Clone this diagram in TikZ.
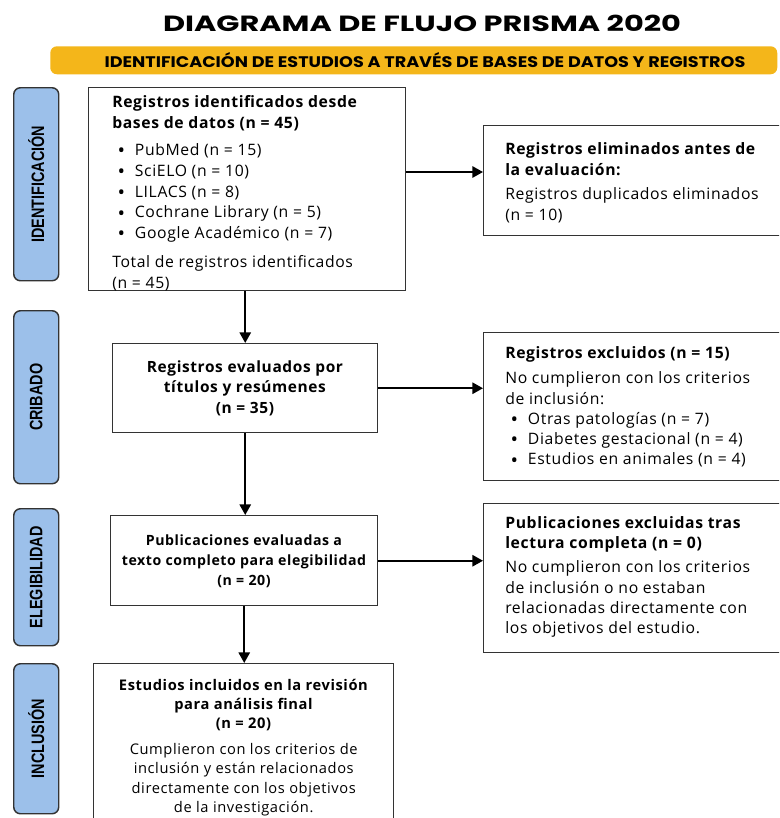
\documentclass[tikz,border=0pt]{standalone}
\usepackage{fontspec}
\setmainfont[LetterSpace=4]{Open Sans}
\newfontfamily\condfont[FakeStretch=0.8]{Liberation Sans}
\newfontfamily\titlefont[FakeStretch=1.38]{Poppins}
\newfontfamily\bannerfont[FakeStretch=1.15]{Poppins}
\usetikzlibrary{arrows.meta,calc}
\definecolor{stageblue}{HTML}{9CC0EA}
\definecolor{bannercol}{HTML}{F4B61A}
\definecolor{edgecol}{HTML}{333333}
\newcommand{\bul}{\hspace*{4pt}\makebox[13pt][l]{\raisebox{-1.6pt}{\fontsize{15}{15}\selectfont\textbullet}}}
\begin{document}
\begin{tikzpicture}[x=0.75pt,y=-0.75pt,
  dims/.style 2 args={minimum width=#1*0.75pt, minimum height=#2*0.75pt},
  box/.style={draw=edgecol, line width=1.1pt, anchor=north west, inner sep=0pt},
  stage/.style={draw=edgecol, fill=stageblue, line width=1.1pt, rounded corners=5pt, anchor=north west, inner sep=0pt},
  stagetxt/.style={rotate=90, inner sep=0pt, font=\condfont\bfseries\fontsize{13.5}{16}\selectfont},
  txt/.style={anchor=north west, inner sep=0pt, align=left, font=\fontsize{11.8}{15.6}\selectfont},
  ctxt/.style={anchor=north, inner sep=0pt, align=center, font=\fontsize{11.3}{15.4}\selectfont},
  arr/.style={-{Triangle[length=8pt,width=8.5pt]}, line width=1.5pt, draw=black}
]
\useasboundingbox (0,0) rectangle (779,818);
\clip (0,0) rectangle (779,818);
\fill[white] (0,0) rectangle (779,818);

% title and banner
\node[inner sep=0pt, font=\titlefont\bfseries\fontsize{16.5}{20}\selectfont] (title) at (422,23) {DIAGRAMA DE FLUJO PRISMA 2020};
\node[fill=bannercol, rounded corners=5pt, anchor=north west, inner sep=0pt, dims={727}{28}] (ban) at (50,46) {};
\node[inner sep=0pt, font=\bannerfont\bfseries\fontsize{11.5}{14}\selectfont] (bantxt) at (425,60) {IDENTIFICACIÓN DE ESTUDIOS A TRAVÉS DE BASES DE DATOS Y REGISTROS};

% stage labels
\node[stage, dims={45}{193}] (s1) at (13,87) {};
\node[stagetxt] (s1t) at (s1.center) {IDENTIFICACIÓN};
\node[stage, dims={45}{173}] (s2) at (13,310) {};
\node[stagetxt] (s2t) at (s2.center) {CRIBADO};
\node[stage, dims={45}{137}] (s3) at (13,508) {};
\node[stagetxt] (s3t) at (s3.center) {ELEGIBILIDAD};
\node[stage, dims={45}{150}] (s4) at (13,663) {};
\node[stagetxt] (s4t) at (s4.center) {INCLUSIÓN};

% boxes
\node[box, dims={317}{203}] (b1) at (88,87) {};
\node[box, dims={300}{110}] (r1) at (483,125) {};
\node[box, dims={265}{89}] (b2) at (112,343) {};
\node[box, dims={300}{148}] (r2) at (483,332) {};
\node[box, dims={267}{90}] (b3) at (110,515) {};
\node[box, dims={300}{149}] (r3) at (483,503) {};
\node[box, dims={300}{175}] (b4) at (93,663) {};

% texts
\node[txt] (b1t) at (112,95) {\textbf{Registros identificados desde}\\\textbf{bases de datos (n = 45)}\\[5pt]
\bul PubMed (n = 15)\\\bul SciELO (n = 10)\\\bul LILACS (n = 8)\\\bul Cochrane Library (n = 5)\\\bul Google Académico (n = 7)\\[6pt]
Total de registros identificados\\(n = 45)};

\node[txt] (r1t) at (505,142) {\textbf{Registros eliminados antes de}\\\textbf{la evaluación:}\\[3pt]
Registros duplicados eliminados\\(n = 10)};

\node[ctxt, font=\fontsize{11.6}{15.4}\selectfont] (b2t) at (b2.north |- 0,360) {\textbf{Registros evaluados por}\\\textbf{títulos y resúmenes}\\\textbf{(n = 35)}};

\node[txt, font=\fontsize{11.8}{15.2}\selectfont] (r2t) at (505,346) {\textbf{Registros excluidos (n = 15)}\\[4pt]
No cumplieron con los criterios\\de inclusión:\\
\bul Otras patologías (n = 7)\\\bul Diabetes gestacional (n = 4)\\\bul Estudios en animales (n = 4)};

\node[ctxt, font=\fontsize{10.6}{15.2}\selectfont] (b3t) at (b3.north |- 0,534) {\textbf{Publicaciones evaluadas a}\\\textbf{texto completo para elegibilidad}\\\textbf{(n = 20)}};

\node[txt, font=\fontsize{11.8}{15.2}\selectfont] (r3t) at (505,516) {\textbf{Publicaciones excluidas tras}\\\textbf{lectura completa (n = 0)}\\[3pt]
No cumplieron con los criterios\\de inclusión o no estaban\\relacionadas directamente con\\los objetivos del estudio.};

\node[ctxt, font=\fontsize{11}{14.4}\selectfont] (b4t) at (b4.north |- 0,679) {\textbf{Estudios incluidos en la revisión}\\\textbf{para análisis final}\\\textbf{(n = 20)}\\[5pt]
Cumplieron con los criterios de\\inclusión y están relacionados\\directamente con los objetivos\\de la investigación.};

% connectors
\draw[arr] (b1.east |- 0,172) -- (r1.west |- 0,172);
\draw[arr] (b2.east) -- (r2.west |- b2.east);
\draw[arr] (b3.east) -- (r3.west |- b3.east);
\draw[arr] (b2.north |- b1.south) -- (b2.north);
\draw[arr] (b2.south) -- (b2.south |- b3.north);
\draw[arr] (b3.south) -- (b3.south |- b4.north);
\end{tikzpicture}
\end{document}
